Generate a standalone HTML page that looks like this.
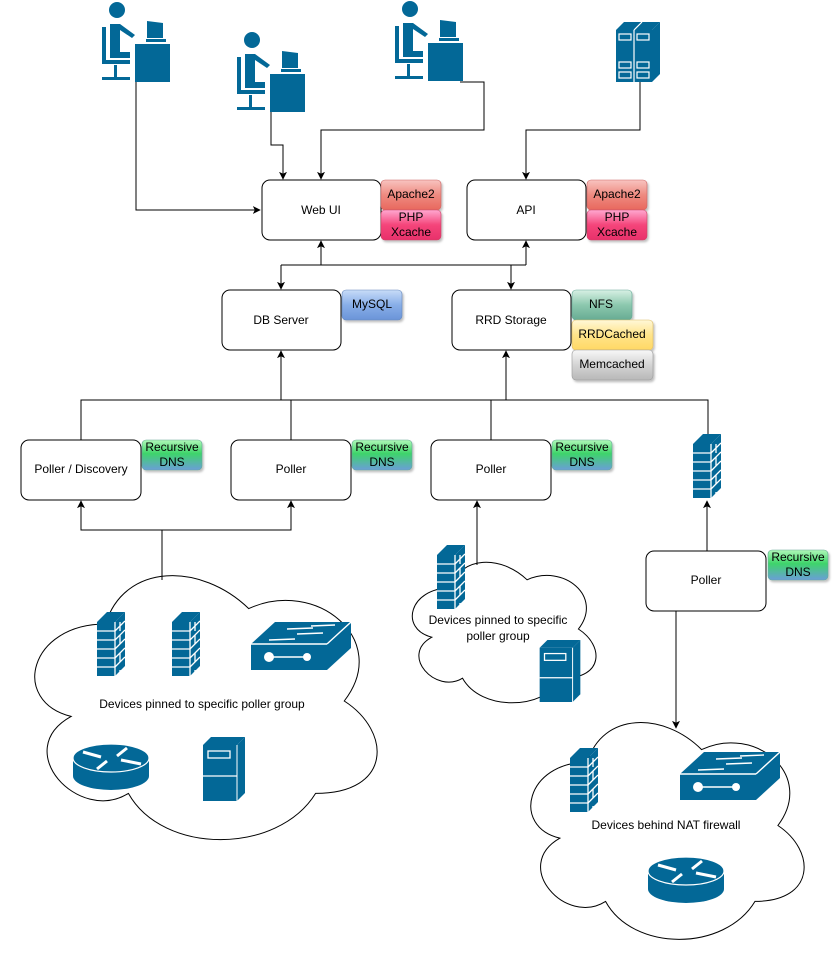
<!DOCTYPE html>
<html><head><meta charset="utf-8"><style>
html,body{margin:0;padding:0;background:#fff;}
body{width:832px;height:955px;overflow:hidden;}
svg text{font-family:"Liberation Sans",sans-serif;font-size:12px;fill:#000;}
</style></head><body>
<svg width="832" height="955" viewBox="0 0 832 955" xmlns="http://www.w3.org/2000/svg">
<defs>
<marker id="ar" viewBox="0 0 10 10" refX="9" refY="5" markerWidth="8" markerHeight="8" orient="auto" markerUnits="userSpaceOnUse"><path d="M0,0 L10,5 L0,10 L2.5,5 Z" fill="#000"/></marker>
<linearGradient id="gRed" x1="0" y1="0" x2="0" y2="1"><stop offset="0" stop-color="#f8c4c0"/><stop offset=".5" stop-color="#ee8a80"/><stop offset="1" stop-color="#e8685e"/></linearGradient>
<linearGradient id="gPink" x1="0" y1="0" x2="0" y2="1"><stop offset="0" stop-color="#ffa8d0"/><stop offset=".5" stop-color="#f4457a"/><stop offset="1" stop-color="#e8306a"/></linearGradient>
<linearGradient id="gBlue" x1="0" y1="0" x2="0" y2="1"><stop offset="0" stop-color="#c8dcf8"/><stop offset=".5" stop-color="#88aee8"/><stop offset="1" stop-color="#6a94d8"/></linearGradient>
<linearGradient id="gTeal" x1="0" y1="0" x2="0" y2="1"><stop offset="0" stop-color="#d8f0e4"/><stop offset=".5" stop-color="#8cc8ae"/><stop offset="1" stop-color="#67ab93"/></linearGradient>
<linearGradient id="gYel" x1="0" y1="0" x2="0" y2="1"><stop offset="0" stop-color="#fff8d8"/><stop offset=".5" stop-color="#ffe48a"/><stop offset="1" stop-color="#ffd865"/></linearGradient>
<linearGradient id="gGray" x1="0" y1="0" x2="0" y2="1"><stop offset="0" stop-color="#f8f8f8"/><stop offset=".5" stop-color="#d4d4d4"/><stop offset="1" stop-color="#b8b8b8"/></linearGradient>
<linearGradient id="gDns" x1="0" y1="0" x2="0" y2="1"><stop offset="0" stop-color="#b0f8b8"/><stop offset=".45" stop-color="#3ed46a"/><stop offset="1" stop-color="#6a9ed8"/></linearGradient>
<filter id="sh" x="-10%" y="-10%" width="130%" height="140%"><feDropShadow dx="1.5" dy="2" stdDeviation="1" flood-color="#000" flood-opacity=".25"/></filter>

<symbol id="user" viewBox="0 0 68 80">
 <circle cx="15" cy="8" r="8" fill="#036897"/>
 <path d="M8,22 h10 l15,11 l-3,3 l-12,-8 v22 h10 v6 h-20 z" fill="#036897"/>
 <path d="M0,25 h4 v33 h24 v4 h-28 z" fill="#036897"/>
 <rect x="12" y="63" width="3" height="12" fill="#036897"/>
 <rect x="0" y="75" width="28" height="3" fill="#036897"/>
 <path d="M45,19 l16,2 v15 h-16 z" fill="#036897"/>
 <rect x="44" y="37" width="20" height="3" fill="#036897"/>
 <rect x="33" y="42" width="36" height="39" fill="#036897"/>
</symbol>

<symbol id="fw" viewBox="0 0 28 68">
 <path d="M0,12 L10,2 L28,2 L18,12 Z" fill="#036897"/>
 <path d="M18,12 L28,2 L28,56 L18,66 Z" fill="#036897"/>
 <rect x="0" y="12" width="18" height="54" fill="#036897"/>
 <g stroke="#fff" stroke-width="1.3">
  <line x1="0" y1="21" x2="18" y2="21"/><line x1="0" y1="30" x2="18" y2="30"/><line x1="0" y1="39" x2="18" y2="39"/><line x1="0" y1="48" x2="18" y2="48"/><line x1="0" y1="57" x2="18" y2="57"/>
  <line x1="18" y1="21" x2="28" y2="11"/><line x1="18" y1="30" x2="28" y2="20"/><line x1="18" y1="39" x2="28" y2="29"/><line x1="18" y1="48" x2="28" y2="38"/><line x1="18" y1="57" x2="28" y2="47"/>
  <line x1="23" y1="12" x2="23" y2="21"/><line x1="23" y1="25" x2="23" y2="34"/><line x1="23" y1="43" x2="23" y2="52"/><line x1="23" y1="60" x2="23" y2="63"/>
  <line x1="18" y1="12" x2="18" y2="66"/>
 </g>
</symbol>

<symbol id="sw" viewBox="0 0 100 50">
 <path d="M0,24 L24,2 L100,2 L76,24 Z" fill="#036897"/>
 <path d="M76,24 L100,2 L100,28 L76,50 Z" fill="#036897"/>
 <rect x="0" y="24" width="76" height="26" fill="#036897"/>
 <g stroke="#fff" stroke-width="1.4" fill="none">
  <line x1="0" y1="24" x2="76" y2="24"/><line x1="76" y1="24" x2="100" y2="2"/>
  <line x1="36" y1="9" x2="62" y2="8"/><line x1="46" y1="14" x2="72" y2="13"/><line x1="18" y1="20" x2="44" y2="19"/><line x1="60" y1="6" x2="84" y2="5"/>
  <line x1="18" y1="37" x2="56" y2="37"/>
 </g>
 <circle cx="18" cy="37" r="5" fill="#fff"/><circle cx="56" cy="37" r="4" fill="#fff"/>
</symbol>

<symbol id="rt" viewBox="0 0 76 52">
 <path d="M0,18 v18 a38,14 0 0 0 76,0 v-18 z" fill="#036897"/>
 <ellipse cx="38" cy="18" rx="38" ry="14" fill="#036897" stroke="#fff" stroke-width="1.2"/>
 <g stroke="#fff" stroke-width="3"><line x1="10" y1="12" x2="28" y2="17"/><line x1="44" y1="16" x2="54" y2="8"/><line x1="48" y1="20" x2="68" y2="24"/><line x1="34" y1="21" x2="24" y2="29"/></g>
</symbol>

<symbol id="srv" viewBox="0 0 42 64">
 <path d="M0,8 L8,0 L42,0 L34,8 Z" fill="#036897"/>
 <path d="M34,8 L42,0 L42,56 L34,64 Z" fill="#036897"/>
 <rect x="0" y="8" width="34" height="56" fill="#036897"/>
 <rect x="5" y="14" width="22" height="7" fill="none" stroke="#fff" stroke-width="1.3"/>
 <line x1="0" y1="39" x2="34" y2="39" stroke="#fff" stroke-width="1.3"/>
 <line x1="34" y1="8" x2="34" y2="64" stroke="#fff" stroke-width="1"/>
</symbol>

<symbol id="rack" viewBox="0 0 44 60">
 <path d="M0,8 L8,0 L44,0 L36,8 Z" fill="#036897"/>
 <path d="M36,8 L44,0 L44,52 L36,60 Z" fill="#036897"/>
 <rect x="0" y="8" width="36" height="52" fill="#036897"/>
 <g stroke="#fff" fill="none" stroke-width="1.2">
  <line x1="18" y1="8" x2="18" y2="60"/><line x1="18" y1="8" x2="26" y2="0"/>
  <rect x="3" y="12" width="12" height="6"/><rect x="21" y="12" width="12" height="6"/>
  <rect x="3" y="40" width="12" height="6"/><rect x="21" y="40" width="12" height="6"/>
  <rect x="3" y="50" width="12" height="6"/><rect x="21" y="50" width="12" height="6"/>
 </g>
</symbol>
</defs>

<!-- clouds -->
<path d="M105.5,624 C29.1,624 10,701 71.1,716.4 C10,750.3 78.8,824.2 128.4,793.4 C162.8,855 277.4,855 315.6,793.4 C392,793.4 392,731.8 344.25,701 C392,639.4 315.6,577.8 248.75,608.6 C201,562.4 124.6,562.4 105.5,624 Z" fill="#fff" stroke="#000"/>
<path d="M450.25,588 C409.25,588 399,629 431.8,637.2 C399,655.2 435.9,694.6 462.55,678.2 C481,711 542.5,711 563,678.2 C604,678.2 604,645.4 578.4,629 C604,596.2 563,563.4 527.1,579.8 C501.5,555.2 460.5,555.2 450.25,588 Z" fill="#fff" stroke="#000"/>
<path d="M587.25,762.25 C526.25,762.25 511,826.5 559.8,838.15 C511,866 565.9,926.7 605.55,901.4 C633,952 724.5,952 755,901.4 C816,901.4 816,850.8 777.9,825.5 C816,774.9 755,724.3 701.6,749.6 C663.5,711.65 602.5,711.65 587.25,762.25 Z" fill="#fff" stroke="#000"/>

<!-- connectors -->
<g stroke="#000" stroke-width="1" fill="none">
 <path d="M136,82 V210 H260" marker-end="url(#ar)"/>
 <path d="M271,112 V145 H283 V179" marker-end="url(#ar)"/>
 <path d="M460,82 H484 V130 H321 V179" marker-end="url(#ar)"/>
 <path d="M640,82 V130 H526 V179" marker-end="url(#ar)"/>
 <path d="M321,265 V241" marker-end="url(#ar)"/>
 <path d="M526,265 V241" marker-end="url(#ar)"/>
 <path d="M281,265 H526"/>
 <path d="M281,265 V289" marker-end="url(#ar)"/>
 <path d="M511,265 V289" marker-end="url(#ar)"/>
 <path d="M281,400 V351" marker-end="url(#ar)"/>
 <path d="M506,400 V351" marker-end="url(#ar)"/>
 <path d="M81,440 V400 H708 V434"/>
 <path d="M291,400 V440"/><path d="M491,400 V440"/>
 <path d="M162,580 V530 H81 V501" marker-end="url(#ar)"/>
 <path d="M162,530 H291 V501" marker-end="url(#ar)"/>
 <path d="M477,565 V501" marker-end="url(#ar)"/>
 <path d="M707,551 V501" marker-end="url(#ar)"/>
 <path d="M676,611 V728" marker-end="url(#ar)"/>
</g>

<!-- boxes -->
<g fill="#fff" stroke="#000" stroke-width="1">
 <rect x="262" y="180" width="119" height="60" rx="8"/>
 <rect x="467" y="180" width="119" height="60" rx="8"/>
 <rect x="222" y="290" width="119" height="60" rx="8"/>
 <rect x="452" y="290" width="119" height="60" rx="8"/>
 <rect x="21" y="440" width="120" height="60" rx="8"/>
 <rect x="231" y="440" width="120" height="60" rx="8"/>
 <rect x="431" y="440" width="120" height="60" rx="8"/>
 <rect x="646" y="551" width="120" height="60" rx="8"/>
</g>
<g text-anchor="middle">
 <text x="321" y="214">Web UI</text>
 <text x="526" y="214">API</text>
 <text x="281" y="324">DB Server</text>
 <text x="511" y="324">RRD Storage</text>
 <text x="81" y="473">Poller / Discovery</text>
 <text x="291" y="473">Poller</text>
 <text x="491" y="473">Poller</text>
 <text x="706" y="584">Poller</text>
</g>

<!-- tags -->
<g filter="url(#sh)" stroke-width=".6">
 <rect x="381" y="180" width="60" height="30" rx="4" fill="url(#gRed)" stroke="#c66"/>
 <rect x="381" y="210" width="60" height="30" rx="4" fill="url(#gPink)" stroke="#c46"/>
 <rect x="587" y="180" width="60" height="30" rx="4" fill="url(#gRed)" stroke="#c66"/>
 <rect x="587" y="210" width="60" height="30" rx="4" fill="url(#gPink)" stroke="#c46"/>
 <rect x="342" y="290" width="60" height="30" rx="4" fill="url(#gBlue)" stroke="#68b"/>
 <rect x="572" y="290" width="60" height="30" rx="4" fill="url(#gTeal)" stroke="#6a9"/>
 <rect x="572" y="320" width="81" height="30" rx="4" fill="url(#gYel)" stroke="#db6"/>
 <rect x="572" y="350" width="81" height="30" rx="4" fill="url(#gGray)" stroke="#999"/>
 <rect x="142" y="440" width="60" height="30" rx="4" fill="url(#gDns)" stroke="#6a9"/>
 <rect x="352" y="440" width="60" height="30" rx="4" fill="url(#gDns)" stroke="#6a9"/>
 <rect x="552" y="440" width="60" height="30" rx="4" fill="url(#gDns)" stroke="#6a9"/>
 <rect x="768" y="550" width="60" height="30" rx="4" fill="url(#gDns)" stroke="#6a9"/>
</g>
<g text-anchor="middle">
 <text x="411" y="198">Apache2</text>
 <text x="411" y="221">PHP</text><text x="411" y="236">Xcache</text>
 <text x="617" y="198">Apache2</text>
 <text x="617" y="221">PHP</text><text x="617" y="236">Xcache</text>
 <text x="372" y="308">MySQL</text>
 <text x="601" y="308">NFS</text>
 <text x="612" y="338">RRDCached</text>
 <text x="612" y="368">Memcached</text>
 <text x="172" y="451">Recursive</text><text x="172" y="466">DNS</text>
 <text x="382" y="451">Recursive</text><text x="382" y="466">DNS</text>
 <text x="582" y="451">Recursive</text><text x="582" y="466">DNS</text>
 <text x="798" y="561">Recursive</text><text x="798" y="576">DNS</text>
</g>

<!-- icons -->
<use href="#user" x="102" y="2" width="68" height="80"/>
<use href="#user" x="237" y="32" width="68" height="80"/>
<use href="#user" x="395" y="1" width="68" height="80"/>
<use href="#rack" x="616" y="22" width="44" height="60"/>
<use href="#fw" x="693" y="432" width="28" height="68"/>
<use href="#fw" x="97" y="610" width="28" height="68"/>
<use href="#fw" x="172" y="610" width="28" height="68"/>
<use href="#sw" x="251" y="620" width="100" height="50"/>
<use href="#rt" x="73" y="740" width="76" height="52"/>
<use href="#srv" x="203" y="737" width="42" height="64"/>
<use href="#fw" x="437" y="543" width="28" height="68"/>
<use href="#srv" x="539" y="640" width="42" height="62"/>
<use href="#fw" x="570" y="746" width="28" height="68"/>
<use href="#sw" x="680" y="750" width="100" height="50"/>
<use href="#rt" x="648" y="853" width="76" height="52"/>

<g text-anchor="middle">
 <text x="202" y="708">Devices pinned to specific poller group</text>
 <text x="498" y="624">Devices pinned to specific</text>
 <text x="498" y="640">poller group</text>
 <text x="666" y="829">Devices behind NAT firewall</text>
</g>
</svg>
</body></html>
